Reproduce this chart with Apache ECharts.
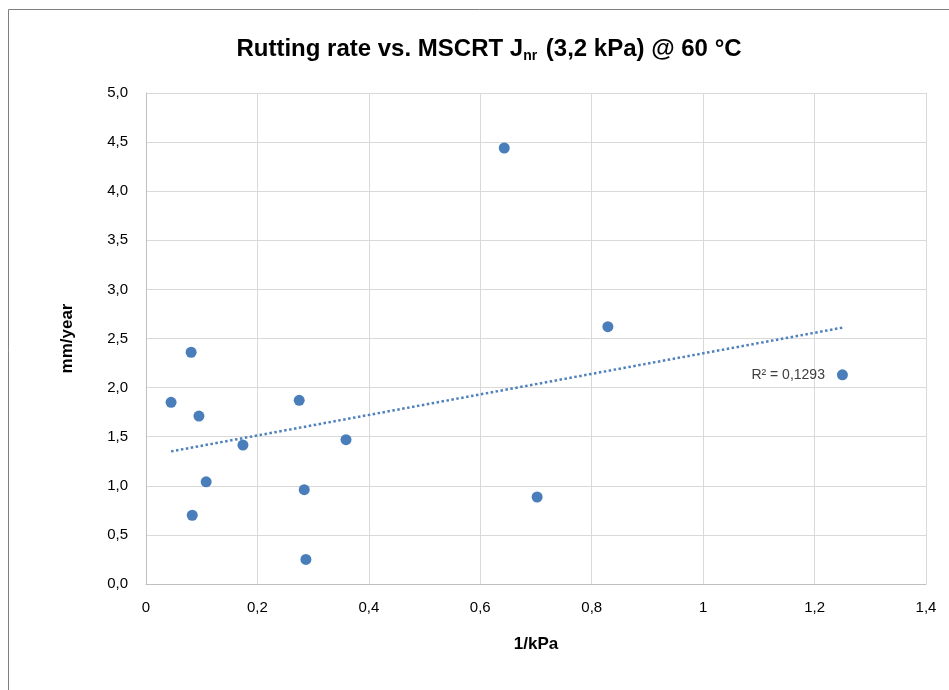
<!DOCTYPE html>
<html><head><meta charset="utf-8">
<script src="https://cdn.jsdelivr.net/npm/echarts@6/dist/echarts.min.js"></script>
<style>html,body{margin:0;padding:0;background:#fff}#c{width:949px;height:690px}</style>
</head><body><div id="c"></div>
<script>
const xValues = [0.045, 0.081, 0.095, 0.083, 0.108, 0.174, 0.275, 0.284, 0.287, 0.359, 0.643, 0.702, 0.829, 1.250];
const yValues = [1.85, 2.36, 1.71, 0.70, 1.04, 1.415, 1.87, 0.96, 0.25, 1.47, 4.44, 0.886, 2.62, 2.13];
const r2Text = 'R² = 0,1293';
const titleMain = 'Rutting rate vs. MSCRT J';
const titleSub = 'nr';
const titleTail = ' (3,2 kPa) @ 60 °C';
const xName = '1/kPa';
const yName = 'mm/year';

// linear regression trendline from the data
const n = xValues.length;
const mx = xValues.reduce((a,b)=>a+b,0)/n;
const my = yValues.reduce((a,b)=>a+b,0)/n;
let sxy=0, sxx=0;
for (let i=0;i<n;i++){ sxy+=(xValues[i]-mx)*(yValues[i]-my); sxx+=(xValues[i]-mx)**2; }
const slope = sxy/sxx, icpt = my - slope*mx;
const xmin = Math.min(...xValues), xmax = Math.max(...xValues);
const trend = [[xmin, icpt+slope*xmin],[xmax, icpt+slope*xmax]];

const font = 'Liberation Sans, Arial, sans-serif';
const pts = xValues.map((x,i)=>[x,yValues[i]]);
const lastIdx = xValues.indexOf(xmax);
const scatterData = pts.map((p,i)=> i===lastIdx ? {value:p, label:{show:true, position:'left', distance:12, formatter:r2Text, color:'#404040', fontSize:14, fontFamily:font}} : p);

const chart = echarts.init(document.getElementById('c'), null, {renderer:'canvas'});
chart.setOption({
  animation:false,
  backgroundColor:'#fff',
  graphic:[{type:'rect', shape:{x:8.5,y:9.5,width:960,height:700}, style:{fill:'none', stroke:'#808080', lineWidth:1}, silent:true}],
  title:{
    text:'{m|'+titleMain+'}{s|'+titleSub+'}{m|'+titleTail+'}',
    left:484, textAlign:'center', top:30,
    textStyle:{rich:{
      m:{fontSize:24, fontWeight:'bold', fontFamily:font, color:'#000'},
      s:{fontSize:14, fontWeight:'bold', fontFamily:font, color:'#000', verticalAlign:'bottom', padding:[14,2,0,0]}
    }}
  },
  grid:{left:146, top:93, right:23, bottom:106, containLabel:false},
  xAxis:{
    type:'value', min:0, max:1.4, interval:0.2,
    name:xName, nameLocation:'middle', nameGap:52,
    nameTextStyle:{fontSize:17, fontWeight:'bold', fontFamily:font, color:'#000'},
    axisLine:{show:true, lineStyle:{color:'#bfbfbf', width:1}},
    axisTick:{show:false},
    axisLabel:{fontSize:15, fontFamily:font, color:'#000', margin:16, formatter:v=>String(Math.round(v*10)/10).replace('.',',')},
    splitLine:{show:true, lineStyle:{color:'#d9d9d9', width:1}}
  },
  yAxis:{
    type:'value', min:0, max:5, interval:0.5,
    name:yName, nameLocation:'middle', nameGap:70, nameRotate:90,
    nameTextStyle:{fontSize:17, fontWeight:'bold', fontFamily:font, color:'#000'},
    axisLine:{show:true, lineStyle:{color:'#bfbfbf', width:1}},
    axisTick:{show:false},
    axisLabel:{fontSize:15, fontFamily:font, color:'#000', margin:18, formatter:v=>v.toFixed(1).replace('.',',')},
    splitLine:{show:true, lineStyle:{color:'#d9d9d9', width:1}}
  },
  series:[
    {type:'line', data:trend, symbol:'none', silent:true,
     lineStyle:{color:'#4f81bd', width:2.5, type:[2.5,2.5]}, z:1},
    {type:'scatter', data:scatterData, symbol:'circle', symbolSize:11,
     itemStyle:{color:'#4a7ebb', opacity:1}, z:3}
  ]
});
</script></body></html>
